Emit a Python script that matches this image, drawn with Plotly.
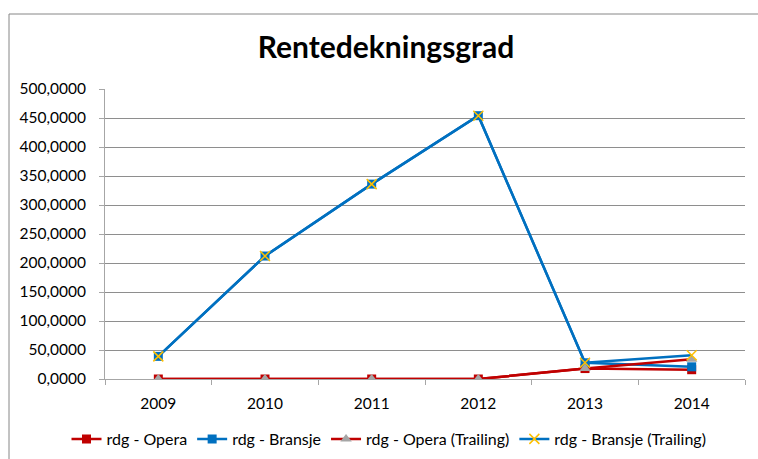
import plotly.graph_objects as go

# ---- data ----
years = ["2009", "2010", "2011", "2012", "2013", "2014"]
rdg_opera = [0, 0, 0, 0, 18, 16]
rdg_bransje = [39, 212, 336, 454, 28, 21]
rdg_opera_trailing = [0, 0, 0, 0, 18, 34]
rdg_bransje_trailing = [39, 212, 336, 454, 28, 41]

title_text = "Rentedekningsgrad"

RED = "#C00000"
BLUE = "#0070C0"
GRAY = "#A5A5A5"
GOLD = "#FFC000"
FONT = "Lato, 'Open Sans', sans-serif"

W, H = 758, 459
L, R, T, B = 105, 13, 89, 80

fig = go.Figure()
fig.add_trace(go.Scatter(
    x=years, y=rdg_opera, name="rdg - Opera", mode="lines+markers",
    line=dict(color=RED, width=2.5),
    marker=dict(symbol="square", size=9, color=RED)))
fig.add_trace(go.Scatter(
    x=years, y=rdg_bransje, name="rdg - Bransje", mode="lines+markers",
    line=dict(color=BLUE, width=2.5),
    marker=dict(symbol="square", size=9, color=BLUE)))
fig.add_trace(go.Scatter(
    x=years, y=rdg_opera_trailing, name="rdg - Opera (Trailing)", mode="lines+markers",
    line=dict(color=RED, width=2.5),
    marker=dict(symbol="triangle-up", size=10, color=GRAY)))
fig.add_trace(go.Scatter(
    x=years, y=rdg_bransje_trailing, name="rdg - Bransje (Trailing)", mode="lines+markers",
    line=dict(color=BLUE, width=2.5),
    marker=dict(symbol="x-thin", size=10, color=GOLD, line=dict(color=GOLD, width=1.5))))

pw = W - L - R
ph = H - T - B
fig.add_shape(type="rect", xref="paper", yref="paper",
              x0=(9 - L) / pw, x1=(W + 20 - L) / pw,
              y0=-(H + 20 - (H - B)) / ph, y1=((H - B) - 14) / ph,
              line=dict(color="#868686", width=1), fillcolor="rgba(0,0,0,0)")

fig.update_layout(
    width=W, height=H, autosize=False,
    margin=dict(l=L, r=R, t=T, b=B, autoexpand=False),
    paper_bgcolor="white", plot_bgcolor="white",
    font=dict(family=FONT, color="#000000", size=15),
    separators=",.",
    title=dict(text="<b>" + title_text + "</b>", x=386 / W, xanchor="center",
               xref="container", y=1 - 47 / H, yref="container", yanchor="middle",
               font=dict(size=30, family=FONT, color="#000000")),
    showlegend=True,
    legend=dict(orientation="h", xref="container", yref="container",
                x=389 / W, xanchor="center", y=1 - 439 / H, yanchor="middle",
                font=dict(size=16, family=FONT, color="#000000"),
                bgcolor="rgba(0,0,0,0)"),
    xaxis=dict(type="category", range=[-0.5, 5.5], showgrid=False,
               showline=True, linecolor="#A6A6A6", linewidth=1,
               ticks="outside", tickson="boundaries", ticklen=5, tickcolor="#A6A6A6",
               ticklabelstandoff=10,
               tickfont=dict(size=15.5), fixedrange=True),
    yaxis=dict(range=[0, 500], dtick=50, tick0=0, tickformat=".4f",
               showgrid=True, gridcolor="#8E8E8E", gridwidth=1,
               showline=True, linecolor="#A6A6A6", linewidth=1,
               ticks="outside", ticklen=5, tickcolor="#A6A6A6",
               ticklabelstandoff=10,
               tickfont=dict(size=15.5), zeroline=False, fixedrange=True),
)

fig.write_html("out.html", config={"displayModeBar": False},
               post_script="document.body.style.margin='0';")
